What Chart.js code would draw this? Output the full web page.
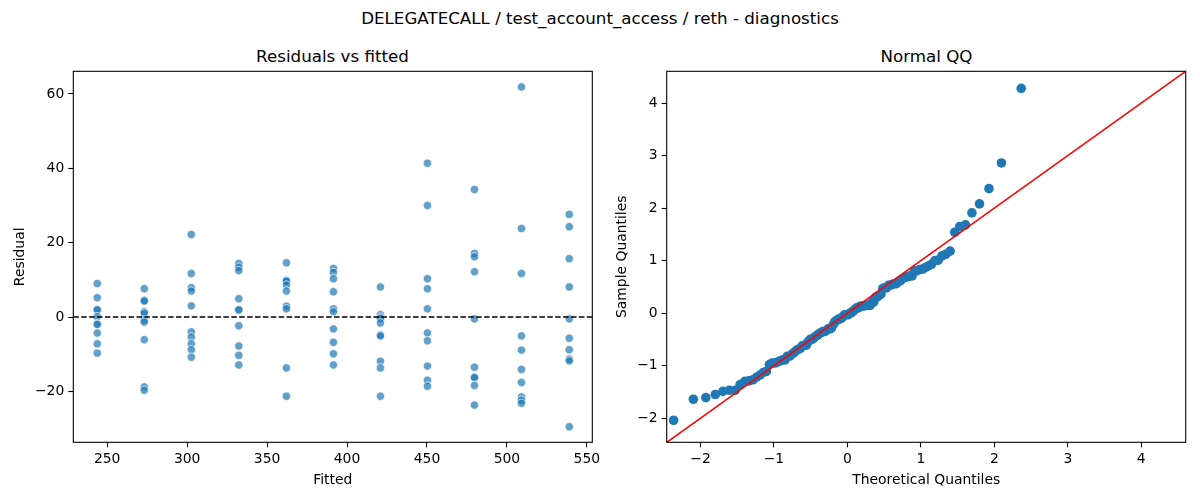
<!DOCTYPE html>
<html>
<head>
<meta charset="utf-8">
<script src="https://cdn.jsdelivr.net/npm/chart.js@4.4.1/dist/chart.umd.min.js"></script>
<style>
  body { margin: 0; background: #fff; font-family: "DejaVu Sans", sans-serif; }
  #wrap { position: relative; width: 1200px; height: 500px; }
  canvas { position: absolute; top: 0; }
  .ttl { position: absolute; font-size: 16.7px; line-height: 20px; color: #000; text-align: center; white-space: nowrap; }
</style>
</head>
<body>
<div id="wrap">
  <div class="ttl" style="left:0; width:1200px; top:8px;">DELEGATECALL / test_account_access / reth - diagnostics</div>
  <div class="ttl" style="left:73px; width:519px; top:46px;">Residuals vs fitted</div>
  <div class="ttl" style="left:667px; width:519px; top:46px;">Normal QQ</div>
  <canvas id="residChart" width="600" height="500" style="left:0"></canvas>
  <canvas id="qqChart" width="600" height="500" style="left:600px"></canvas>
</div>
<script>
const fitted = [243.8, 273.2, 302.6, 332.3, 362.1, 391.5, 420.9, 450.3, 479.7, 509.1, 539.0];
const residuals = [
    [9.0, 5.2, 2.05, 1.9, 0.1, -1.8, -2.0, -4.3, -7.2, -9.7],
    [7.6, 4.5, 4.3, 1.4, 1.0, -0.8, -1.35, -6.1, -18.8, -19.7],
    [22.2, 11.7, 7.9, 7.0, 3.0, -4.0, -5.4, -7.2, -8.8, -10.8],
    [14.4, 13.4, 12.5, 4.9, 2.05, 1.9, -2.35, -7.8, -10.3, -12.9],
    [14.6, 10.0, 9.8, 9.6, 8.6, 7.0, 2.9, 2.2, -13.7, -21.3],
    [13.05, 12.0, 10.3, 6.8, 2.2, 1.4, -3.2, -6.8, -9.9, -12.9],
    [8.1, 0.6, 0.0, -0.4, -1.6, -4.8, -5.1, -11.9, -13.7, -21.3],
    [41.35, 30.0, 10.3, 7.6, 2.2, -4.3, -6.4, -13.2, -17.0, -18.6],
    [34.3, 17.1, 16.2, 12.2, -0.5, -13.5, -16.1, -16.3, -18.4, -23.7],
    [61.9, 23.8, 11.7, -5.1, -8.9, -14.1, -17.6, -21.5, -22.4, -23.2],
    [27.6, 24.3, 15.7, 8.1, -0.5, -5.7, -8.8, -11.3, -11.8, -29.5]
];
const residXTicks = [250, 300, 350, 400, 450, 500, 550];
const residYTicks = [-20, 0, 20, 40, 60];

const theoQuantiles = [
    -2.366, -2.097, -1.927, -1.798, -1.695, -1.607, -1.530, -1.461, -1.398, -1.340,
    -1.287, -1.237, -1.190, -1.145, -1.103, -1.062, -1.024, -0.986, -0.950, -0.915,
    -0.881, -0.848, -0.817, -0.785, -0.755, -0.725, -0.696, -0.668, -0.640, -0.612,
    -0.585, -0.559, -0.532, -0.506, -0.481, -0.456, -0.431, -0.406, -0.382, -0.358,
    -0.334, -0.310, -0.286, -0.263, -0.239, -0.216, -0.193, -0.170, -0.147, -0.125,
    -0.102, -0.079, -0.057, -0.034, -0.011, 0.011, 0.034, 0.057, 0.079, 0.102,
    0.125, 0.147, 0.170, 0.193, 0.216, 0.239, 0.263, 0.286, 0.310, 0.334,
    0.358, 0.382, 0.406, 0.431, 0.456, 0.481, 0.506, 0.532, 0.559, 0.585,
    0.612, 0.640, 0.668, 0.696, 0.725, 0.755, 0.785, 0.817, 0.848, 0.881,
    0.915, 0.950, 0.986, 1.024, 1.062, 1.103, 1.145, 1.190, 1.237, 1.287,
    1.340, 1.398, 1.461, 1.530, 1.607, 1.695, 1.798, 1.927, 2.097, 2.366
];
const sampleQuantiles = [
    -2.04, -1.64, -1.61, -1.55, -1.49, -1.47, -1.47, -1.36, -1.30, -1.29,
    -1.27, -1.22, -1.18, -1.13, -1.11, -0.98, -0.95, -0.95, -0.93, -0.91,
    -0.89, -0.89, -0.82, -0.82, -0.78, -0.75, -0.71, -0.69, -0.67, -0.62,
    -0.61, -0.61, -0.54, -0.50, -0.50, -0.47, -0.44, -0.42, -0.39, -0.37,
    -0.35, -0.35, -0.33, -0.30, -0.30, -0.28, -0.22, -0.16, -0.14, -0.12,
    -0.11, -0.09, -0.06, -0.03, -0.03, -0.03, 0.00, 0.01, 0.04, 0.07,
    0.10, 0.10, 0.13, 0.13, 0.14, 0.14, 0.15, 0.15, 0.15, 0.20,
    0.21, 0.30, 0.31, 0.34, 0.36, 0.47, 0.48, 0.48, 0.53, 0.53,
    0.55, 0.56, 0.56, 0.60, 0.62, 0.66, 0.68, 0.69, 0.71, 0.71,
    0.81, 0.81, 0.83, 0.84, 0.87, 0.90, 0.93, 1.00, 1.01, 1.09,
    1.12, 1.18, 1.54, 1.65, 1.68, 1.91, 2.08, 2.37, 2.86, 4.28
];
const qqTicks = [-2, -1, 0, 1, 2, 3, 4];

const residXRange = [228.8, 553.4];
const residYRange = [-33.7, 66.1];
const qqRange = [-2.46, 4.605];

Chart.defaults.font.family = '"DejaVu Sans", sans-serif';
Chart.defaults.color = '#000';

const fmt = v => String(v).replace('-', '\u2212');

// matplotlib-style box around the plot area
const frame = {
    id: 'frame',
    afterDatasetsDraw(chart) {
        const a = chart.chartArea, ctx = chart.ctx;
        ctx.save();
        ctx.strokeStyle = '#000';
        ctx.lineWidth = 1.1;
        ctx.strokeRect(a.left, a.top, a.right - a.left, a.bottom - a.top);
        ctx.restore();
    }
};

// fixed box sizes so the plot area lands where the reference has it
function axis(min, max, ticks, title, size) {
    return {
        type: 'linear', min: min, max: max,
        afterBuildTicks: s => { s.ticks = ticks.map(v => ({ value: v })); },
        afterFit: s => {
            if (s.isHorizontal()) s.height = size; else s.width = size;
            s.paddingLeft = s.paddingRight = s.paddingTop = s.paddingBottom = 0;
        },
        grid: { drawOnChartArea: false, color: '#000', tickLength: 5, tickWidth: 1.1 },
        border: { display: false },
        ticks: { font: { size: 13.9 }, padding: 4, callback: v => fmt(v) },
        title: { display: true, text: title, font: { size: 13.9 }, padding: 4 }
    };
}

const common = {
    responsive: false,
    animation: false,
    plugins: { legend: { display: false }, tooltip: { enabled: false } }
};

const residPoints = [];
fitted.forEach((f, i) => residuals[i].forEach(r => residPoints.push({ x: f, y: r })));

new Chart(document.getElementById('residChart'), {
    type: 'scatter',
    data: {
        datasets: [{
            data: [{ x: residXRange[0], y: 0 }, { x: residXRange[1], y: 0 }],
            type: 'line', showLine: true, pointRadius: 0,
            borderColor: '#000', borderWidth: 1.3, borderDash: [5.5, 2.4],
            order: 0
        }, {
            data: residPoints,
            backgroundColor: 'rgba(31,119,180,0.7)',
            borderColor: '#fff', borderWidth: 0.7, pointRadius: 4.2,
            order: 1
        }]
    },
    options: {
        ...common,
        layout: { padding: { left: 8.3, top: 71.3, right: 7.7, bottom: 7.6 } },
        scales: {
            x: axis(residXRange[0], residXRange[1], residXTicks, 'Fitted', 50.1),
            y: axis(residYRange[0], residYRange[1], residYTicks, 'Residual', 65)
        }
    },
    plugins: [frame]
});

new Chart(document.getElementById('qqChart'), {
    type: 'scatter',
    data: {
        datasets: [{
            data: [{ x: qqRange[0], y: qqRange[0] }, { x: qqRange[1], y: qqRange[1] }],
            type: 'line', showLine: true, pointRadius: 0,
            borderColor: '#ff0000', borderWidth: 1.6,
            order: 0
        }, {
            data: theoQuantiles.map((t, i) => ({ x: t, y: sampleQuantiles[i] })),
            backgroundColor: '#1f77b4', borderWidth: 0, pointRadius: 4.8,
            order: 1
        }]
    },
    options: {
        ...common,
        layout: { padding: { left: 9.9, top: 71.3, right: 14.3, bottom: 7.6 } },
        scales: {
            x: axis(qqRange[0], qqRange[1], qqTicks, 'Theoretical Quantiles', 50.1),
            y: axis(qqRange[0], qqRange[1], qqTicks, 'Sample Quantiles', 56.8)
        }
    },
    plugins: [frame]
});
</script>
</body>
</html>
